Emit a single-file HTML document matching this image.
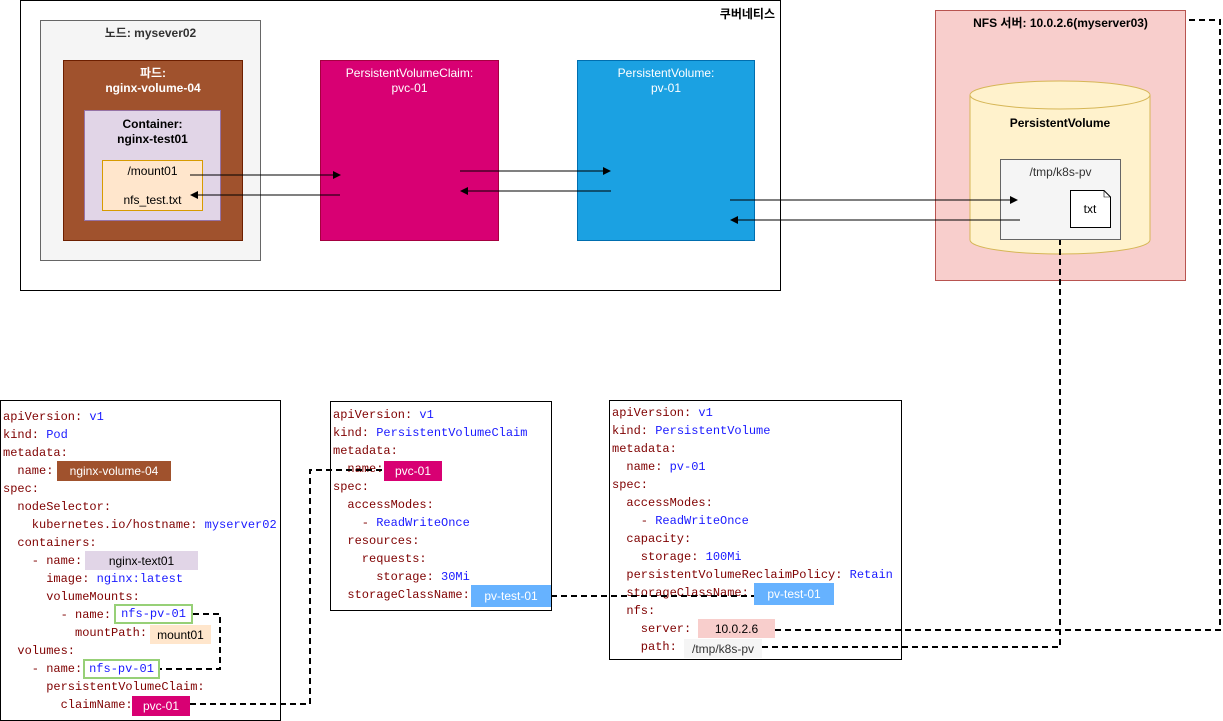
<!DOCTYPE html>
<html><head><meta charset="utf-8"><style>
*{margin:0;padding:0;box-sizing:border-box}
body{width:1223px;height:721px;background:#fff;position:relative;overflow:hidden;font-family:"Liberation Sans","Noto Sans CJK KR",sans-serif}
.a{position:absolute}
.t{font-size:12px;text-align:center;line-height:15px}
pre{position:absolute;font-family:"Liberation Mono","DejaVu Sans Mono",monospace;font-size:12px;line-height:18px;color:#7f0000;white-space:pre}
pre b{font-weight:normal;color:#1a1aff}
.h{position:absolute;font-size:12px;display:flex;align-items:center;justify-content:center}
</style></head><body>
<!-- top -->
<div class="a" style="left:20px;top:0;width:761px;height:291px;border:1px solid #000"></div>
<div class="a t" style="left:680px;top:7px;width:95px;text-align:right;font-weight:bold">쿠버네티스</div>
<div class="a" style="left:40px;top:20px;width:221px;height:241px;background:#f5f5f5;border:1px solid #666"></div>
<div class="a t" style="left:40px;top:26px;width:221px;font-weight:bold;color:#333">노드: mysever02</div>
<div class="a" style="left:63px;top:60px;width:180px;height:181px;background:#a0522d;border:1px solid #6d1f00"></div>
<div class="a t" style="left:63px;top:66px;width:180px;font-weight:bold;color:#fff">파드:<br>nginx-volume-04</div>
<div class="a" style="left:84px;top:110px;width:137px;height:111px;background:#e1d5e7;border:1px solid #9673a6"></div>
<div class="a t" style="left:84px;top:117px;width:137px;font-weight:bold">Container:<br>nginx-test01</div>
<div class="a" style="left:102px;top:160px;width:101px;height:51px;background:#ffe6cc;border:1px solid #d79b00"></div>
<div class="a t" style="left:102px;top:164px;width:101px">/mount01</div>
<div class="a t" style="left:102px;top:193px;width:101px">nfs_test.txt</div>
<div class="a" style="left:320px;top:60px;width:179px;height:181px;background:#d80073;border:1px solid #a50040"></div>
<div class="a t" style="left:320px;top:66px;width:179px;color:#fff">PersistentVolumeClaim:<br>pvc-01</div>
<div class="a" style="left:577px;top:60px;width:178px;height:181px;background:#1ba1e2;border:1px solid #006eaf"></div>
<div class="a t" style="left:577px;top:66px;width:178px;color:#fff">PersistentVolume:<br>pv-01</div>
<div class="a" style="left:935px;top:10px;width:251px;height:271px;background:#f8cecc;border:1px solid #b85450"></div>
<div class="a t" style="left:935px;top:16px;width:251px;font-weight:bold">NFS 서버: 10.0.2.6(myserver03)</div>
<svg class="a" style="left:0;top:0" width="1223" height="721">
<defs><marker id="m" markerWidth="8" markerHeight="8" refX="7" refY="4" orient="auto" markerUnits="userSpaceOnUse"><path d="M0,0L8,4L0,8z" fill="#000"/></marker></defs>
<path d="M970,95 V240 A90,14 0 0 0 1150,240 V95" fill="#fff2cc" stroke="#d6b656"/>
<ellipse cx="1060" cy="95" rx="90" ry="14" fill="#fff2cc" stroke="#d6b656"/>
<rect x="1000.5" y="159.5" width="120" height="80" fill="#f5f5f5" stroke="#666"/>
<path d="M1070.5,190.5H1104L1110.5,197V227.5H1070.5Z" fill="#fff" stroke="#000"/>
<path d="M1104,190.5V197H1110.5" fill="none" stroke="#000" stroke-width=".6"/>
<g stroke="#000" stroke-width="1" fill="none">
<line x1="190" y1="175" x2="340" y2="175" marker-end="url(#m)"/>
<line x1="340" y1="195" x2="191" y2="195" marker-end="url(#m)"/>
<line x1="460" y1="171" x2="610" y2="171" marker-end="url(#m)"/>
<line x1="611" y1="191" x2="461" y2="191" marker-end="url(#m)"/>
<line x1="730" y1="200" x2="1017" y2="200" marker-end="url(#m)"/>
<line x1="1020" y1="220" x2="731" y2="220" marker-end="url(#m)"/>
</g>
<rect x="0.5" y="400.5" width="280" height="320" fill="#fff" stroke="#000"/>
<rect x="330.5" y="401.5" width="221" height="209" fill="#fff" stroke="#000"/>
<rect x="609.5" y="400.5" width="292" height="259" fill="#fff" stroke="#000"/>
</svg>
<div class="a t" style="left:970px;top:116px;width:180px;font-weight:bold">PersistentVolume</div>
<div class="a t" style="left:1000px;top:165px;width:121px;color:#333">/tmp/k8s-pv</div>
<div class="a t" style="left:1070px;top:202px;width:40px">txt</div>
<pre style="left:3px;top:408px">apiVersion: <b>v1</b>
kind: <b>Pod</b>
metadata:
  name:
spec:
  nodeSelector:
    kubernetes.io/hostname: <b>myserver02</b>
  containers:
    - name:
      image: <b>nginx:latest</b>
      volumeMounts:
        - name:
          mountPath:
  volumes:
    - name:
      persistentVolumeClaim:
        claimName:</pre>
<pre style="left:333px;top:406px">apiVersion: <b>v1</b>
kind: <b>PersistentVolumeClaim</b>
metadata:
  name:
spec:
  accessModes:
    - <b>ReadWriteOnce</b>
  resources:
    requests:
      storage: <b>30Mi</b>
  storageClassName:</pre>
<pre style="left:612px;top:404px">apiVersion: <b>v1</b>
kind: <b>PersistentVolume</b>
metadata:
  name: <b>pv-01</b>
spec:
  accessModes:
    - <b>ReadWriteOnce</b>
  capacity:
    storage: <b>100Mi</b>
  persistentVolumeReclaimPolicy: <b>Retain</b>
  storageClassName:
  nfs:
    server:
    path:</pre>
<div class="h" style="left:57px;top:461px;width:114px;height:20px;background:#a0522d;color:#fff">nginx-volume-04</div>
<div class="h" style="left:85px;top:551px;width:113px;height:19px;background:#e1d5e7">nginx-text01</div>
<div class="h" style="left:114px;top:604px;width:79px;height:20px;background:#fff;border:2px solid #97d077;color:#1a1aff;font-family:'Liberation Mono',monospace">nfs-pv-01</div>
<div class="h" style="left:150px;top:625px;width:61px;height:19px;background:#ffe6cc">mount01</div>
<div class="h" style="left:83px;top:659px;width:77px;height:20px;background:#fff;border:2px solid #97d077;color:#1a1aff;font-family:'Liberation Mono',monospace">nfs-pv-01</div>
<div class="h" style="left:132px;top:696px;width:58px;height:20px;background:#d80073;color:#fff">pvc-01</div>
<div class="h" style="left:384px;top:461px;width:58px;height:20px;background:#d80073;color:#fff">pvc-01</div>
<div class="h" style="left:471px;top:585px;width:80px;height:22px;background:#66b2ff;color:#fff">pv-test-01</div>
<div class="h" style="left:754px;top:583px;width:80px;height:22px;background:#66b2ff;color:#fff">pv-test-01</div>
<div class="h" style="left:698px;top:619px;width:77px;height:19px;background:#f8cecc">10.0.2.6</div>
<div class="h" style="left:684px;top:639px;width:78px;height:19px;background:#f5f5f5;color:#333">/tmp/k8s-pv</div>
<svg class="a" style="left:0;top:0" width="1223" height="721">
<g stroke="#000" stroke-width="2" stroke-dasharray="6,4" fill="none">
<path d="M190,704H310V470H384"/>
<path d="M193,614H220V669H160"/>
<path d="M551,596H754"/>
<path d="M775,630H1220V20H1186"/>
<path d="M762,647H1060V240"/>
</g>
</svg>
</body></html>
